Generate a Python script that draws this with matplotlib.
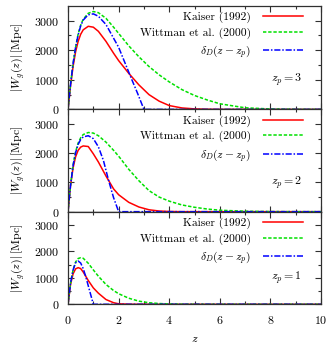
import numpy as np
import matplotlib
matplotlib.use("Agg")
import matplotlib.pyplot as plt

plt.rcParams["font.family"] = "serif"
plt.rcParams["font.serif"] = ["cmr10", "DejaVu Serif"]
plt.rcParams["mathtext.fontset"] = "cm"
plt.rcParams["axes.formatter.use_mathtext"] = True

# redshift grid for the broad distributions
z_grid = [0, 0.1, 0.2, 0.3, 0.4, 0.5, 0.6, 0.8, 1.0, 1.2, 1.5, 1.8, 2.0, 2.4, 2.8,
          3.2, 3.6, 4.0, 4.5, 5.0, 5.5, 6.0, 7.0, 8.0, 9.0, 10.0]

# panel z_p = 3
kaiser_3 = [0, 800, 1450, 1950, 2300, 2540, 2690, 2810, 2780, 2640, 2300, 1900, 1650,
            1220, 830, 500, 280, 130, 50, 18, 5, 0, 0, 0, 0, 0]
wittman_3 = [0, 850, 1550, 2100, 2550, 2850, 3050, 3250, 3310, 3270, 3080, 2780, 2570,
             2150, 1780, 1450, 1170, 930, 670, 470, 320, 190, 55, 15, 3, 0]
z_delta_3 = [0, 0.1, 0.2, 0.3, 0.4, 0.5, 0.6, 0.8, 1.0, 1.2, 1.5, 2.0, 2.5, 2.75, 3.0, 10.0]
delta_3 = [0, 850, 1550, 2100, 2520, 2820, 3020, 3200, 3230, 3150, 2870, 2100, 1050, 540, 0, 0]

# panel z_p = 2
kaiser_2 = [0, 900, 1500, 1880, 2100, 2210, 2250, 2230, 1980, 1700, 1220, 780, 580,
            320, 160, 65, 22, 6, 0, 0, 0, 0, 0, 0, 0, 0]
wittman_2 = [0, 900, 1600, 2050, 2350, 2530, 2640, 2710, 2690, 2600, 2380, 2100, 1900,
             1450, 1060, 720, 500, 360, 230, 150, 90, 50, 15, 4, 0, 0]
z_delta_2 = [0, 0.1, 0.2, 0.3, 0.4, 0.5, 0.6, 0.8, 1.0, 1.2, 1.4, 1.6, 1.8, 2.0, 10.0]
delta_2 = [0, 900, 1580, 2020, 2300, 2470, 2560, 2600, 2500, 2220, 1750, 1080, 480, 0, 0]

# panel z_p = 1
kaiser_1 = [0, 750, 1150, 1340, 1385, 1350, 1220, 900, 620, 420, 180, 60, 20,
            3, 0, 0, 0, 0, 0, 0, 0, 0, 0, 0, 0, 0]
wittman_1 = [0, 800, 1300, 1600, 1730, 1760, 1740, 1550, 1300, 1060, 750, 520, 400,
             230, 120, 60, 30, 12, 4, 0, 0, 0, 0, 0, 0, 0]
z_delta_1 = [0, 0.1, 0.2, 0.3, 0.4, 0.5, 0.6, 0.7, 0.8, 0.9, 1.0, 10.0]
delta_1 = [0, 800, 1300, 1570, 1635, 1560, 1350, 1050, 700, 350, 0, 0]

panels = [
    ("$z_p = 3$", kaiser_3, wittman_3, z_delta_3, delta_3),
    ("$z_p = 2$", kaiser_2, wittman_2, z_delta_2, delta_2),
    ("$z_p = 1$", kaiser_1, wittman_1, z_delta_1, delta_1),
]

fig = plt.figure(figsize=(3.27, 3.46), dpi=100)
gs = fig.add_gridspec(3, 1, left=0.208, right=0.982, top=0.983, bottom=0.1205,
                      hspace=0, height_ratios=[103.5, 102.2, 92.6])
fs = 8.6
lfs = 8.3
for i, (lab, ka, wi, zd, de) in enumerate(panels):
    ax = fig.add_subplot(gs[i])
    ax.axhline(0, color="#888888", lw=1.0, zorder=1)
    ax.plot(z_grid, ka, color="#ff0000", lw=1.1, label="Kaiser (1992)")
    ax.plot(z_grid, wi, color="#00e000", lw=1.1, ls=(0, (2.2, 1.2)),
            label="Wittman et al. (2000)")
    ax.plot(zd, de, color="#0000ff", lw=1.1, ls=(0, (4, 1.2, 1, 1.2)),
            label=r"$\delta_D(z - z_p)$")
    ax.set_xlim(0, 10)
    ax.set_ylim(0, 3500)
    ax.set_xticks([0, 2, 4, 6, 8, 10])
    ax.set_xticks([1, 3, 5, 7, 9], minor=True)
    ax.set_yticks([0, 1000, 2000, 3000])
    ax.set_yticks([500, 1500, 2500], minor=True)
    ax.tick_params(which="both", direction="in", top=True, right=True,
                   labelsize=fs, color="#303030")
    ax.tick_params(which="major", length=4, width=0.8)
    ax.tick_params(which="minor", length=2.5, width=0.8)
    ax.tick_params(axis="y", pad=6)
    ax.tick_params(axis="x", pad=7)
    for s in ax.spines.values():
        s.set_color("#303030")
        s.set_linewidth(0.9)
    if i < 2:
        ax.tick_params(labelbottom=False)
    ax.set_ylabel(r"$|W_g(z)|\,[\mathrm{Mpc}]$", fontsize=fs, labelpad=5)
    h = ax.get_position().height * 346
    ax.legend(loc="upper right", bbox_to_anchor=(0.947, 1 - 1.5 / h),
              borderaxespad=0, frameon=False, fontsize=lfs, markerfirst=False,
              handlelength=3.5, labelspacing=0.38, handletextpad=1.0)
    ax.text(0.925, 0.285, lab, transform=ax.transAxes, ha="right", va="center",
            fontsize=fs)
    if i == 2:
        ax.set_xlabel("$z$", fontsize=fs, labelpad=6)

fig.savefig("out.png", dpi=100)
